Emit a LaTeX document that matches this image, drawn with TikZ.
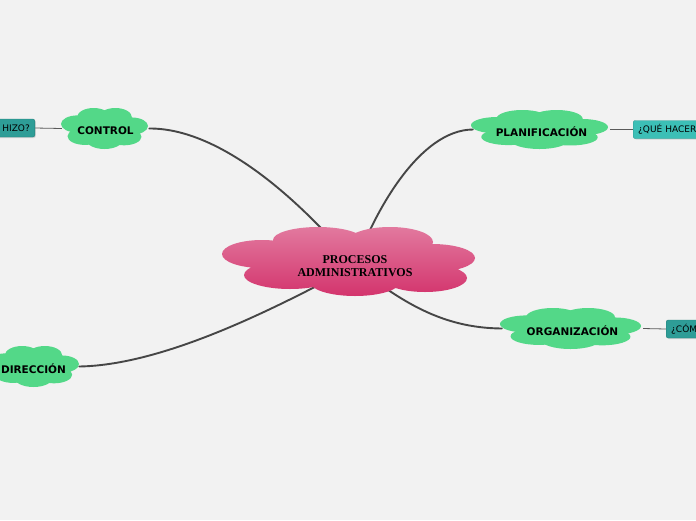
\documentclass[tikz,border=0pt]{standalone}
\usepackage{fontspec}
\usepackage{xcolor}
\usepackage{tikz}
\usetikzlibrary{shadows}
\newfontfamily\leaffont{DejaVu Sans}
\newfontfamily\corefont{Liberation Serif}
\definecolor{bg}{HTML}{F2F2F2}
\definecolor{pinktop}{HTML}{E27A9F}
\definecolor{pinkbot}{HTML}{D3336C}
\definecolor{leafgreen}{HTML}{53D888}
\definecolor{tealA}{HTML}{3CBFB6}
\definecolor{tealB}{HTML}{2E9D97}
\definecolor{wire}{HTML}{464646}
\definecolor{twig}{HTML}{5A5A5A}
\pgfdeclarelayer{backdrop}
\pgfdeclarelayer{edges}
\pgfdeclarelayer{clouds}
\pgfsetlayers{backdrop,edges,clouds,main}
\tikzset{
  core/.style={font=\corefont\bfseries\fontsize{12}{13}\selectfont, align=center, text=black},
  leaf/.style={font=\leaffont\bfseries\fontsize{10.5}{12}\selectfont, text=black, inner sep=0pt},
  tag/.style={font=\leaffont\fontsize{9}{10}\selectfont, text=black, draw=#1!80!black, fill=#1,
    rounded corners=2pt, minimum height=18pt, inner xsep=5pt, line width=0.4pt,
    drop shadow={opacity=0.25, shadow xshift=1pt, shadow yshift=-1pt}},
  wire/.style={draw=wire, line width=1.9pt, line cap=round},
  twig/.style={draw=twig, line width=0.8pt}
}
% leaf text sits a little below the point where the links meet the cloud
\newcommand{\low}[1]{\raisebox{-2.5pt}[\height][\depth]{#1}}
% green cloud: center x, center y, half width, half height
\newcommand{\greencloud}[4]{%
  \foreach \dx/\dy/\rx/\ry in {-0.25/-0.55/0.38/0.45, 0.25/-0.55/0.38/0.45,
      -0.62/-0.22/0.38/0.42, 0.62/-0.12/0.38/0.42, -0.45/0.38/0.4/0.42,
      0/0.55/0.42/0.45, 0.45/0.4/0.4/0.42, 0/0/0.7/0.6}
    \fill[leafgreen] ({#1+\dx*#3},{#2+\dy*#4}) ellipse ({\rx*#3pt} and {\ry*#4pt});
}

\begin{document}
\begin{tikzpicture}[x=1pt,y=-1pt]
  \begin{pgfonlayer}{backdrop}
    \fill[bg] (0,0) rectangle (696,520);
  \end{pgfonlayer}
  \useasboundingbox (0,0) rectangle (696,520);

  \node[core] (core) at (355,266) {PROCESOS\\ADMINISTRATIVOS};
  \node[leaf, minimum width=87pt, minimum height=41pt] (control) at (105.5,128.5) {\low{CONTROL}};
  \node[leaf, minimum width=137pt, minimum height=39pt] (plan) at (541.5,129.5) {\low{PLANIFICACIÓN}};
  \node[leaf, minimum width=141pt, minimum height=41pt] (org) at (572.5,328.5) {\low{ORGANIZACIÓN}};
  \node[leaf, minimum width=91pt, minimum height=41pt] (dir) at (33.5,366.5) {\low{DIRECCIÓN}};

  \node[tag=tealB, anchor=east, text width=45pt, align=right] (done) at (35,128) {HIZO?};
  \node[tag=tealA, anchor=west, text width=70pt, align=left] (what) at (633,129.5) {¿QUÉ HACER};
  \node[tag=tealB, anchor=west, text width=40pt, align=left] (how) at (666,329) {¿CÓM};

  \begin{pgfonlayer}{edges}
    \draw[wire] (core.center) .. controls (300,200) and (220,128) .. (control.east);
    \draw[wire] (core.center) .. controls (375,210) and (420,130) .. (plan.west);
    \draw[wire] (core.center) .. controls (400,300) and (440,328) .. (org.west);
    \draw[wire] (core.center) .. controls (290,300) and (170,365) .. (dir.east);
    \draw[twig] (control.west) -- (done.east);
    \draw[twig] (plan.east) -- (what.west);
    \draw[twig] (org.east) -- (how.west);
  \end{pgfonlayer}

  \begin{pgfonlayer}{clouds}
    \begin{scope}
      \clip (318,240) ellipse (45pt and 13pt) (390,242) ellipse (43pt and 15pt)
        (262,254) ellipse (40pt and 14pt) (432,258) ellipse (43pt and 14pt)
        (290,275) ellipse (46pt and 14pt) (355,282) ellipse (45pt and 14pt)
        (425,278) ellipse (42pt and 14pt) (348,262) ellipse (90pt and 26pt);
      \shade[top color=pinktop, bottom color=pinkbot] (222,226) rectangle (476,297);
    \end{scope}
    \greencloud{104.5}{128.5}{43.5}{20.5}
    \greencloud{539.5}{129.5}{68.5}{19.5}
    \greencloud{570.5}{328.5}{70.5}{20.5}
    \greencloud{33.5}{366.5}{45.5}{20.5}
  \end{pgfonlayer}
\end{tikzpicture}
\end{document}
